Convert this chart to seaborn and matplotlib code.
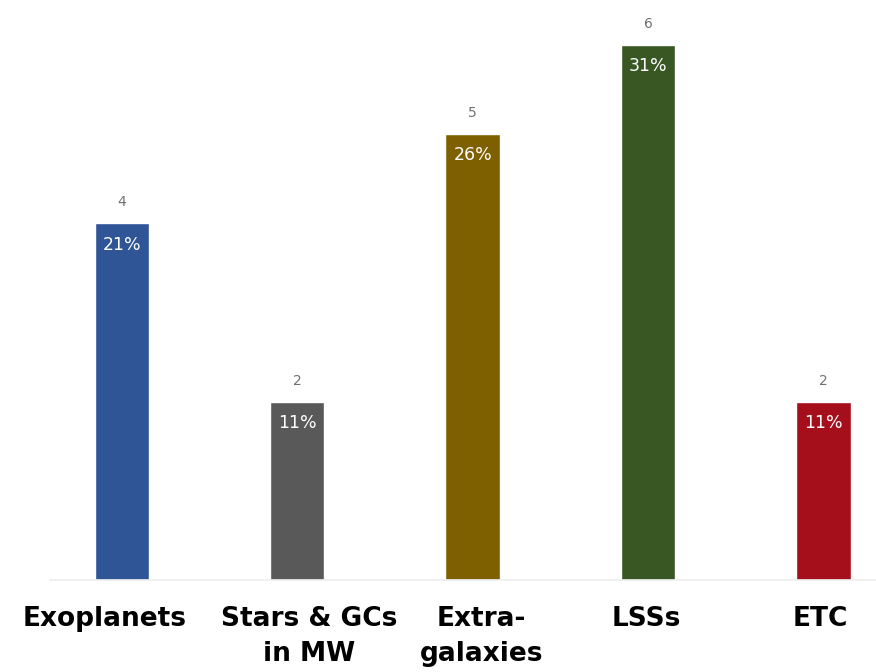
import matplotlib
matplotlib.use("Agg")
import matplotlib.pyplot as plt
import matplotlib.transforms as mtransforms
import seaborn as sns
import pandas as pd

categories = ["Exoplanets", "Stars & GCs\nin MW", "Extra-\ngalaxies", "LSSs", "ETC"]
counts = [4, 2, 5, 6, 2]
share_labels = ["21%", "11%", "26%", "31%", "11%"]
bar_colors = ["#2F5597", "#595959", "#7F6000", "#385723", "#A50F1C"]

sns.set_theme(style="white")
plt.rcParams["font.family"] = ["DejaVu Sans"]

df = pd.DataFrame({"category": categories, "count": counts})

fig = plt.figure(figsize=(8.76, 6.72), dpi=100)
ax = fig.add_axes([50 / 876, 92 / 672, 826 / 876, 580 / 672])

sns.barplot(data=df, x="category", y="count", hue="category",
            palette=bar_colors, width=0.31, legend=False, ax=ax,
            saturation=1)

ax.set_xlim(-0.41, 4.30)
ax.set_ylim(0, 6.5)

for i, (c, s) in enumerate(zip(counts, share_labels)):
    ax.annotate(str(c), (i, c), xytext=(0, 10), textcoords="offset points",
                ha="center", va="bottom", fontsize=10, color="#707070")
    ax.annotate(s, (i, c), xytext=(0, -9), textcoords="offset points",
                ha="center", va="top", fontsize=12.5, color="white")

ax.set_xlabel("")
ax.set_ylabel("")
ax.set_yticks([])
ax.tick_params(axis="x", length=0, pad=19)

# small horizontal nudges (in pixels) for the category labels
label_shift_px = [-17, 12, 9, -2, -3]
for lbl, dx in zip(ax.get_xticklabels(), label_shift_px):
    lbl.set_fontsize(19)
    lbl.set_fontweight("bold")
    lbl.set_color("black")
    lbl.set_linespacing(1.45)
    lbl.set_transform(lbl.get_transform() +
                      mtransforms.ScaledTranslation(dx / 100, 0, fig.dpi_scale_trans))

for side in ["left", "right", "top"]:
    ax.spines[side].set_visible(False)
ax.spines["bottom"].set_color("#eeeeee")
ax.spines["bottom"].set_linewidth(1.2)

fig.savefig("out.png", dpi=100)
